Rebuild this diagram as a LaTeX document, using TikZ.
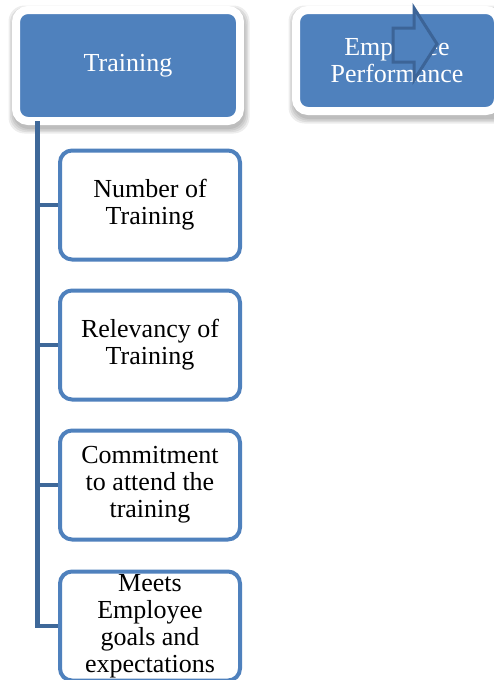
\documentclass[tikz,border=0pt]{standalone}
\usepackage{fontspec}
\setmainfont{LiberationSerif-Regular.ttf}
\usetikzlibrary{shadows}
\definecolor{boxblue}{HTML}{4F81BD}
\definecolor{darkblue}{HTML}{3E6899}
\definecolor{arrowblue}{HTML}{3C6497}
\tikzset{
  topbox/.style={rectangle, rounded corners=12pt, fill=boxblue, draw=white, line width=8pt,
    text=white, align=center, inner sep=0pt, font=\fontsize{26}{27}\selectfont},
  shadowbox/.style={rounded corners=16pt, fill=black, fill opacity=0.07},
  childbox/.style={rectangle, rounded corners=12pt, fill=white, draw=boxblue, line width=4pt,
    text=black, align=center, inner sep=0pt, minimum width=180pt, minimum height=109pt,
    font=\fontsize{26}{27}\selectfont},
  conn/.style={draw=darkblue, line width=4.5pt},
  bigarrow/.style={draw=arrowblue, fill=boxblue, line width=3pt, line join=miter}
}
\begin{document}
\begin{tikzpicture}[x=1pt,y=-1pt]
\useasboundingbox (0,0) rectangle (493,680);
\fill[white] (0,0) rectangle (493,680);
% soft shadows
\foreach \d in {0,1.5,3,4.5} {
  \fill[shadowbox] (12-\d+1,6-\d+4) rectangle (244+\d+1,125+\d+4);
  \fill[shadowbox] (292-\d+1,6-\d+4) rectangle (510+\d+1,115+\d+4);
}
% top boxes
\node[topbox, minimum width=224pt, minimum height=111pt] (train) at (128,65.5) {Training};
\node[topbox, minimum width=202pt, minimum height=101pt] (perf) at (397,60.5) {Employee\\Performance};
% arrow overlay
\draw[bigarrow] (393,28) -- (414,28) -- (414,8) -- (437,44) -- (414,80) -- (414,62) -- (393,62) -- cycle;
% child boxes
\node[childbox] (b1) at (150,205) {Number of\\Training};
\node[childbox] (b2) at (150,345) {Relevancy of\\Training};
\node[childbox] (b3) at (150,485) {Commitment\\to attend the\\training};
\node[childbox] (b4) at (150,626) {Meets\\Employee\\goals and\\expectations};
% connectors
\coordinate (top) at (37.5,121);
\draw[conn] (top) |- (b4.west);
\draw[conn] (top |- b1.west) -- (b1.west);
\draw[conn] (top |- b2.west) -- (b2.west);
\draw[conn] (top |- b3.west) -- (b3.west);
\end{tikzpicture}
\end{document}
